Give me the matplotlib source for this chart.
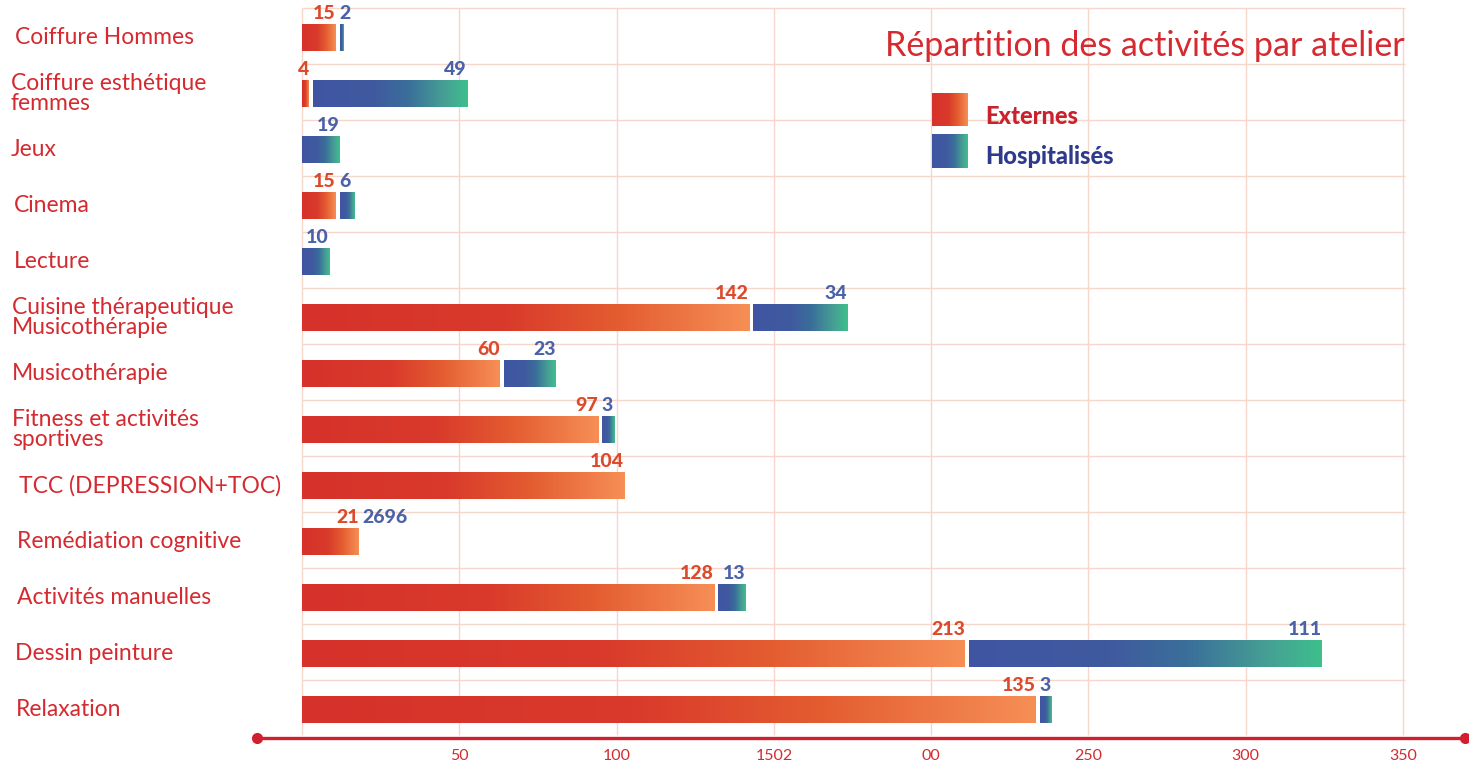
import numpy as np
import matplotlib.pyplot as plt
from matplotlib.colors import LinearSegmentedColormap

# ateliers, from top to bottom
ateliers = ['Coiffure Hommes', 'Coiffure esthétique\nfemmes', 'Jeux', 'Cinema', 'Lecture',
            'Cuisine thérapeutique\nMusicothérapie', 'Musicothérapie',
            'Fitness et activités\nsportives', 'TCC (DEPRESSION+TOC)', 'Remédiation cognitive',
            'Activités manuelles', 'Dessin peinture', 'Relaxation']

# bar lengths as drawn in the picture
externes = [10.8, 2.2, 0, 10.8, 0, 142.1, 62.9, 94.1, 102.4, 18.1, 131.0, 210.7, 233.3]
hospitalises = [1.0, 49.0, 11.8, 4.5, 8.6, 29.9, 16.5, 4.1, 0, 0, 8.9, 112.2, 3.5]

# numbers printed above the bars
externes_lbl = ['15', '4', '', '15', '', '142', '60', '97', '104', '21', '128', '213', '135']
hospitalises_lbl = ['2', '49', '19', '6', '10', '34', '23', '3', '', '2696', '13', '111', '3']

tick_vals = [50, 100, 150, 200, 250, 300, 350]
tick_lbls = ['50', '100', '1502', '00', '250', '300', '350']

# left indent (px) of each atelier name, the original is not aligned
indent = [15, 11, 11, 14, 14, 12, 12, 12, 19, 17, 17, 15, 16]

RED = '#d42a30'
GRID = '#f7d6cc'
ext_cmap = LinearSegmentedColormap.from_list(
    'ext', [(0, '#d6312a'), (0.45, '#d93a2b'), (0.7, '#e35b30'), (1, '#f68f56')])
hosp_cmap = LinearSegmentedColormap.from_list(
    'hosp', [(0, '#3f55a3'), (0.4, '#405a9f'), (0.62, '#3a6f9a'), (0.85, '#46a094'), (1, '#3ebf8c')])
grad = np.linspace(0, 1, 256).reshape(1, -1)


def gbar(ax, x0, x1, yc, h, cmap):
    if x1 - x0 <= 0:
        return
    ax.imshow(grad, cmap=cmap, extent=[x0, x1, yc + h / 2, yc - h / 2],
              aspect='auto', interpolation='bicubic', zorder=3)


fig = plt.figure(figsize=(14.69, 7.66), dpi=100)
ax = fig.add_axes([0, 0, 1, 1])

ppu = (1403 - 302) / 350          # pixels per value unit
Y0, DY = 37.5, 56                 # pixel row of first bar centre, row pitch
xmin = -302 / ppu
xmax = xmin + 1469 / ppu
ytop = -Y0 / DY
ybot = (766 - Y0) / DY


def py(p):
    return (p - Y0) / DY


n = len(ateliers)
rows = np.arange(n)

# grid
ax.hlines(rows + py(8), 0, 350.5, color=GRID, lw=1, zorder=1)
ax.vlines([0] + tick_vals, py(8), py(735), color=GRID, lw=1, zorder=1)

h = 0.48
gap = 1.2
for i in rows:
    e = externes[i]
    s = e + gap if e > 0 else 0
    gbar(ax, 0, e, i, h, ext_cmap)
    gbar(ax, s, s + hospitalises[i], i, h, hosp_cmap)
    ly = i - 0.42
    if externes_lbl[i]:
        ax.text(e, ly, externes_lbl[i], ha='right', va='center', color='#dc4a2c',
                fontsize=14, fontweight='black', family='Lato', zorder=4)
    if hospitalises_lbl[i]:
        if hospitalises[i] < 8:
            ax.text(s, ly, hospitalises_lbl[i], ha='left', va='center', color='#4a62a8',
                    fontsize=14, fontweight='black', family='Lato', zorder=4)
        else:
            ax.text(s + hospitalises[i], ly, hospitalises_lbl[i], ha='right', va='center',
                    color='#4a62a8', fontsize=14, fontweight='black', family='Lato', zorder=4)
    ax.text(xmin + indent[i] / ppu, i, ateliers[i], ha='left', va='center', color=RED,
            fontsize=16.5, family='Lato', linespacing=0.95)

# bottom axis line
ax.plot([(257 - 302) / ppu, (1465 - 302) / ppu], [py(738), py(738)], color='#d01f2e', lw=2.4,
        marker='o', markersize=7, solid_capstyle='butt', zorder=5)
for v, t in zip(tick_vals, tick_lbls):
    ax.text(v, py(756), t, ha='center', va='center', color=RED, fontsize=11.5,
            family='Lato')

# title and legend
ax.text(350.6, py(46), 'Répartition des activités par atelier', ha='right',
        va='center', color=RED, fontsize=24.5, family='Lato')
lx0, lx1 = (932 - 302) / ppu, (968 - 302) / ppu
ax.imshow(grad, cmap=ext_cmap, extent=[lx0, lx1, py(126), py(93)], aspect='auto', zorder=3)
ax.imshow(grad, cmap=hosp_cmap, extent=[lx0, lx1, py(168), py(134)], aspect='auto', zorder=3)
ax.text((985 - 302) / ppu, py(116), 'Externes', ha='left', va='center',
        color='#c8222e', fontsize=17, fontweight='black', family='Lato')
ax.text((985 - 302) / ppu, py(156), 'Hospitalisés', ha='left', va='center',
        color='#2e3a8c', fontsize=17, fontweight='black', family='Lato')

ax.set_xlim(xmin, xmax)
ax.set_ylim(ybot, ytop)
ax.axis('off')

fig.savefig('out.png', dpi=100)
